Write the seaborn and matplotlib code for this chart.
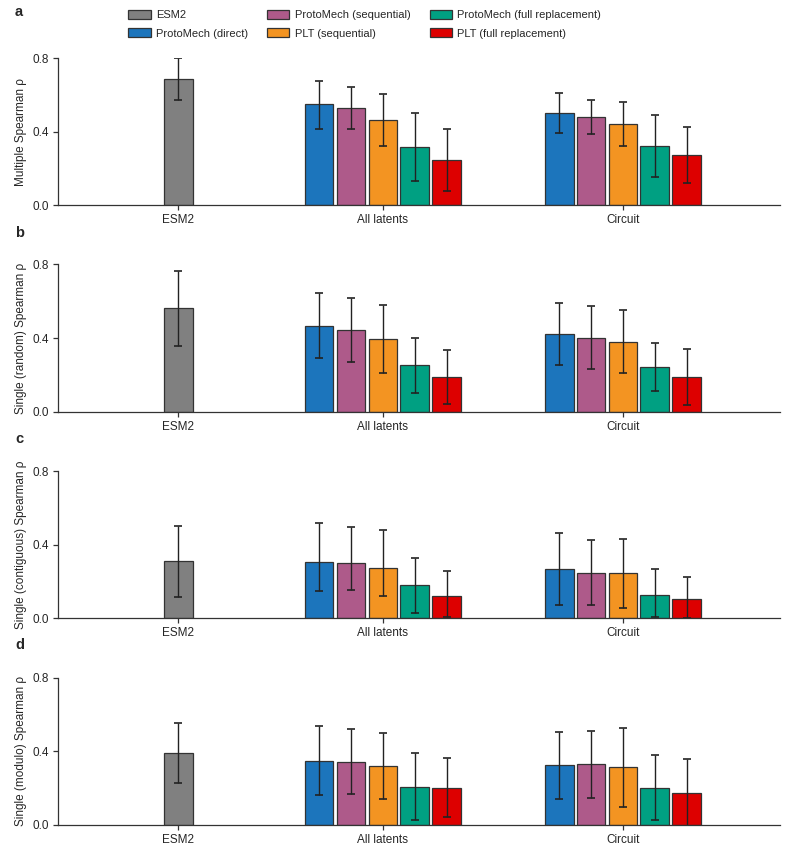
import matplotlib
matplotlib.use("Agg")
import matplotlib.pyplot as plt
from matplotlib.patches import Patch
import numpy as np
import pandas as pd
import seaborn as sns

groups = ["ESM2", "All latents", "Circuit"]
methods = ["ESM2", "ProtoMech (direct)", "ProtoMech (sequential)", "PLT (sequential)",
           "ProtoMech (full replacement)", "PLT (full replacement)"]
colors = ["#808080", "#1c75bc", "#ae5a8a", "#f39422", "#00a082", "#dd0000"]

# one bar for ESM2, then the five methods for "All latents" and for "Circuit"
bar_group = ["ESM2"] + ["All latents"] * 5 + ["Circuit"] * 5
bar_method = [methods[0]] + methods[1:] * 2

panel_letters = ["a", "b", "c", "d"]
ylabels = ["Multiple Spearman ρ", "Single (random) Spearman ρ",
           "Single (contiguous) Spearman ρ", "Single (modulo) Spearman ρ"]

multiple_mean = [0.686, 0.550, 0.530, 0.463, 0.314, 0.248, 0.502, 0.481, 0.444, 0.321, 0.274]
multiple_lo = [0.573, 0.417, 0.415, 0.323, 0.134, 0.079, 0.395, 0.390, 0.324, 0.152, 0.121]
multiple_hi = [0.800, 0.678, 0.644, 0.606, 0.499, 0.417, 0.611, 0.573, 0.562, 0.490, 0.424]

random_mean = [0.561, 0.467, 0.442, 0.393, 0.252, 0.190, 0.423, 0.402, 0.378, 0.241, 0.188]
random_lo = [0.355, 0.290, 0.268, 0.208, 0.103, 0.043, 0.255, 0.230, 0.208, 0.112, 0.036]
random_hi = [0.765, 0.646, 0.617, 0.581, 0.400, 0.337, 0.592, 0.574, 0.550, 0.373, 0.342]

contig_mean = [0.310, 0.307, 0.299, 0.275, 0.179, 0.123, 0.268, 0.248, 0.244, 0.128, 0.105]
contig_lo = [0.116, 0.148, 0.154, 0.121, 0.027, 0.005, 0.072, 0.072, 0.058, 0.005, 0.000]
contig_hi = [0.503, 0.519, 0.498, 0.478, 0.329, 0.257, 0.463, 0.425, 0.431, 0.266, 0.224]

modulo_mean = [0.389, 0.349, 0.342, 0.320, 0.206, 0.199, 0.322, 0.328, 0.312, 0.201, 0.170]
modulo_lo = [0.228, 0.159, 0.168, 0.139, 0.026, 0.040, 0.139, 0.147, 0.098, 0.026, -0.017]
modulo_hi = [0.554, 0.537, 0.519, 0.501, 0.391, 0.360, 0.505, 0.510, 0.525, 0.378, 0.357]

panels = [(multiple_mean, multiple_lo, multiple_hi),
          (random_mean, random_lo, random_hi),
          (contig_mean, contig_lo, contig_hi),
          (modulo_mean, modulo_lo, modulo_hi)]

# layout, in units of one bar slot
group_centers = {"ESM2": 0.0, "All latents": 6.42, "Circuit": 13.96}
xlim = (-3.78, 18.89)

pos = []
for g in groups:
    idx = [i for i, b in enumerate(bar_group) if b == g]
    for j, i in enumerate(idx):
        pos.append(group_centers[g] + j - (len(idx) - 1) / 2)

sns.set_theme(style="ticks")
plt.rcParams["font.family"] = ["Liberation Sans", "DejaVu Sans"]
plt.rcParams["axes.edgecolor"] = "#333333"

palette = dict(zip(methods, colors))
fig = plt.figure(figsize=(7.93, 8.55), dpi=100)

bottoms = [0.7599, 0.5185, 0.2768, 0.0354]
letter_y = [0.986, 0.7275, 0.4865, 0.2455]

for k, (mean, lo, hi) in enumerate(panels):
    ax = fig.add_axes([0.0731, bottoms[k], 0.9105, 0.1722])
    df = pd.DataFrame({"pos": pos, "value": mean, "lo": lo, "hi": hi,
                       "method": bar_method, "group": bar_group})
    sns.barplot(data=df, x="pos", y="value", hue="method", hue_order=methods,
                palette=palette, native_scale=True, dodge=False, width=0.9,
                saturation=1, errorbar=None, edgecolor="#333333", linewidth=0.9,
                legend=False, ax=ax)
    ax.errorbar(df["pos"], df["value"],
                yerr=[df["value"] - df["lo"], df["hi"] - df["value"]],
                fmt="none", ecolor="#222222", elinewidth=1, capsize=2.6, capthick=1.2)
    ax.set_xlim(*xlim)
    ax.set_ylim(0, 0.8)
    ax.set_yticks([0.0, 0.4, 0.8])
    ax.set_yticklabels(["0.0", "0.4", "0.8"])
    ax.set_xticks([group_centers[g] for g in groups])
    ax.set_xticklabels(groups)
    ax.set_xlabel("")
    ax.set_ylabel(ylabels[k], fontsize=8.5, labelpad=4)
    ax.tick_params(labelsize=8.5, length=3.5, width=0.9, color="#333333", pad=3)
    for s in ax.spines.values():
        s.set_linewidth(0.9)
    sns.despine(ax=ax)
    fig.text(0.019, letter_y[k], panel_letters[k], fontsize=10.5, fontweight="bold",
             ha="left", va="center")

handles = [Patch(facecolor=c, edgecolor="#333333", linewidth=0.9) for c in colors]
fig.legend(handles, methods, ncol=3, loc="upper center", bbox_to_anchor=(0.46, 1.0),
           frameon=False, fontsize=8, handlelength=2.0, handleheight=0.9,
           handletextpad=0.5, columnspacing=1.7, labelspacing=0.7)

fig.savefig("out.png", dpi=100)
